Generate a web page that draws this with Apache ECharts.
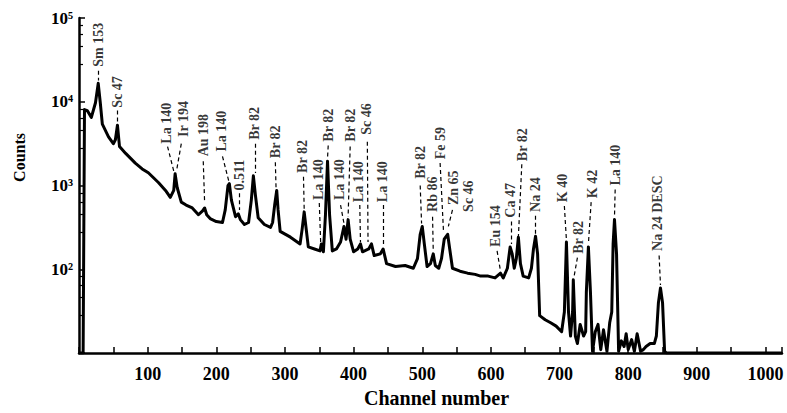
<!DOCTYPE html>
<html><head><meta charset="utf-8">
<script src="https://cdn.jsdelivr.net/npm/echarts@6/dist/echarts.min.js"></script>
<style>html,body{margin:0;padding:0;background:#fff}#c{width:787px;height:413px}</style>
</head><body><div id="c"></div>
<script>
// Gamma spectrum: channel number vs counts
const spectrumChannels = [0,6,8,12,18,24,28,31,34,43,50,53,56,59,68,82,92,101,116,126,133,138,140,143,149,156,165,174,180,183,186,191,200,209,213,217,219,222,228,232,235,241,247,251,254,257,261,270,279,282,285,288,290,293,308,322,325,328,331,334,343,351,353,356,359,362,365,369,375,381,386,389,392,395,400,406,410,413,422,426,430,439,443,448,461,475,487,493,497,500,503,507,512,516,519,524,528,532,537,540,544,555,566,577,585,596,606,614,618,624,628,631,634,637,640,643,647,655,659,662,665,668,671,679,687,695,703,707,710,713,716,719,720,723,726,730,735,738,739,742,745,748,752,756,760,764,769,773,776,778,780,783,786,790,794,797,800,805,809,813,818,822,826,832,838,841,844,847,850,853,856,1024];
const spectrumCounts = [10,10,8070,7850,6510,9730,16600,9730,5400,3810,3160,3520,5260,2920,2420,1850,1580,1420,1080,875,724,875,1380,948,634,585,540,448,499,540,448,403,372,362,512,1000,1055,670,425,460,392,343,362,670,1306,765,413,343,316,362,585,875,512,284,242,201,300,485,300,185,175,166,201,162,448,1955,448,166,175,212,325,229,392,229,162,175,201,162,175,201,146,153,175,117,108,111,103,134,262,325,201,108,117,153,111,103,134,229,262,175,103,95,90,87,83,83,79,90,79,103,185,153,103,134,242,117,83,79,103,175,248,153,28,25,23,21,18,31,212,31,16,31,75,16,13,22,16,18,53,185,53,10.5,18,22,11,19,10.5,23,31,201,392,153,10.5,14,12,17,11,14.5,10.5,17,10.5,11,12,13,13,16,40,60,40,10.5,10,10];

// Peak identifications
const labelNames = ['Sm 153','Sc 47','La 140','Ir 194','Au 198','La 140','0.511','Br 82','Br 82','Br 82','La 140','Br 82','La 140','Br 82','La 140','Sc 46','La 140','Br 82','Rb 86','Fe 59','Zn 65','Sc 46','Eu 154','Ca 47','Br 82','Na 24','K 40','Br 82','K 42','La 140','Na 24 DESC'];
const labelChannels = [28,56,127,152,181,207,234,256,286,325,349,363,379,395,407,419,442,497,515,526,545,567,607,629,646,665,705,727,748,781,843];
const labelCounts = [26200,8510,3160,3810,2230,2550,875,3520,2120,1416,670,3340,670,3340,634,4030,634,1205,485,2060,585,485,185,413,1955,485,634,153,706,1000,166];
// Leader lines: [startChannel, startCounts, endChannel, endCounts]
const leaderLines = [
  [28,23500,28,18000],[56,7850,56,5700],[129,2920,138,1490],[149,3160,142,1490],
  [181,1955,183,618],[209,2230,218,1143],[234,807,234,512],[256,3160,256,1416],
  [286,1900,287,948],[327,1275,328,526],[350,618,352,212],[363,3000,362,2120],
  [381,585,386,352],[395,2920,392,425],[409,585,410,212],[420,3340,421,212],
  [443,585,443,190],[497,1000,499,352],[515,425,516,166],[526,1860,531,277],
  [544,512,538,325],null,[609,166,614,95],[630,372,630,201],
  [645,1800,640,242],[665,437,665,262],[707,570,710,223],[726,138,721,81],
  [746,634,742,201],[781,897,780,425],[845,146,847,65]
];
const xTickValues = [100,200,300,400,500,600,700,800,900,1000];
const yTickExponents = {100:'²',1000:'³',10000:'⁴',100000:'⁵'};

const chart = echarts.init(document.getElementById('c'), null, {renderer:'svg'});
const serif = 'Liberation Serif, DejaVu Serif, serif';
const option = {
  animation: false,
  backgroundColor: '#fff',
  grid: {left: 79, right: 5, top: 18, bottom: 51},
  xAxis: {
    type: 'value', min: 0, max: 1024, interval: 100,
    axisLine: {lineStyle: {color: '#000', width: 2.5}},
    axisTick: {inside: true, length: 6, lineStyle: {color: '#000', width: 1.5}},
    minorTick: {show: true, splitNumber: 2, length: 6, lineStyle: {color: '#000', width: 1.5}},
    splitLine: {show: false},
    axisLabel: {margin: 12, color: '#000', fontFamily: serif, fontWeight: 'bold', fontSize: 18,
      showMaxLabel: false,
      formatter: v => xTickValues.indexOf(v) >= 0 ? String(v) : ''},
    name: 'Channel number', nameLocation: 'middle', nameGap: 27,
    nameTextStyle: {color: '#000', fontFamily: serif, fontWeight: 'bold', fontSize: 20, padding: [0, 0, 0, 12]}
  },
  yAxis: {
    type: 'log', logBase: 10, min: 10, max: 100000,
    axisLine: {lineStyle: {color: '#000', width: 2.5}},
    axisTick: {inside: true, length: 6, lineStyle: {color: '#000', width: 1.5}},
    minorTick: {show: true, splitNumber: 5, length: 4, lineStyle: {color: '#000', width: 1.2}},
    splitLine: {show: false},
    axisLabel: {margin: 6, color: '#000', fontFamily: serif, fontWeight: 'bold', fontSize: 17,
      formatter: v => yTickExponents[Math.round(v)] ? '10' + yTickExponents[Math.round(v)] : ''}
  },
  graphic: [{
    type: 'text', left: 11, top: 133, rotation: Math.PI / 2,
    style: {text: 'Counts', fill: '#000', font: 'bold 16px ' + serif}
  }],
  series: [
    {
      type: 'line', data: spectrumChannels.map((c, i) => [c, spectrumCounts[i]]),
      showSymbol: false, silent: true, z: 3,
      lineStyle: {color: '#000', width: 3, join: 'round'}
    },
    {
      type: 'scatter', silent: true, symbolSize: 0, z: 4,
      data: labelNames.map((n, i) => [labelChannels[i], labelCounts[i], n]),
      label: {show: true, formatter: p => p.data[2], rotate: 90, position: [0, 0],
        align: 'left', verticalAlign: 'middle', color: '#000',
        fontFamily: serif, fontWeight: 'bold', fontSize: 14},
      markLine: {
        silent: true, symbol: ['none', 'none'], label: {show: false},
        lineStyle: {color: '#000', width: 1.2, type: [4, 3]},
        emphasis: {disabled: true},
        data: leaderLines.filter(l => l).map(l => [{coord: [l[0], l[1]]}, {coord: [l[2], l[3]]}])
      }
    }
  ]
};
chart.setOption(option);
</script></body></html>
